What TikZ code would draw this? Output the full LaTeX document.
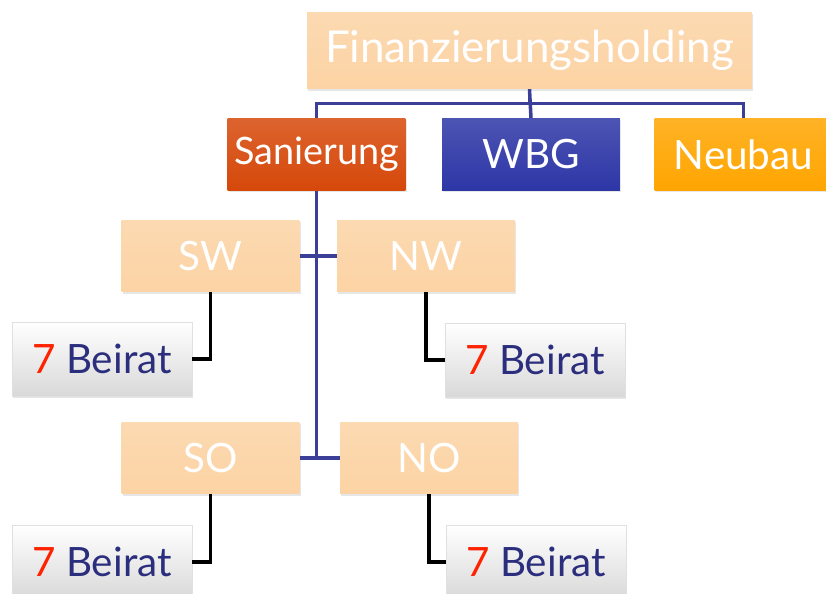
\documentclass[tikz,border=0pt]{standalone}
\usepackage{fontspec}
\setmainfont{Lato}
\usetikzlibrary{shadows}

\definecolor{peach}{HTML}{FCD3A4}
\definecolor{rust}{HTML}{D6480A}
\definecolor{royal}{HTML}{2D36A6}
\definecolor{amber}{HTML}{FFA500}
\definecolor{navy}{HTML}{2B2E7C}
\definecolor{linkblue}{HTML}{3B3F98}
\definecolor{seven}{HTML}{FF2200}

\begin{document}
\begin{tikzpicture}[x=0.02cm,y=-0.02cm]
      \tikzstyle{every node}+=[font=\fontsize{23}{27}\selectfont, inner sep=0pt]
      \tikzstyle{box}=[rectangle, minimum width=3.56cm, minimum height=1.44cm,
        drop shadow={opacity=0.2, shadow xshift=0.6pt, shadow yshift=-1pt}]
      \tikzstyle{area}=[box, top color=peach!85, bottom color=peach, text=white]
      \tikzstyle{beirat}=[box, minimum width=3.6cm, minimum height=1.48cm,
        top color=white, bottom color=black!15, draw=black!12, text=navy]
      \tikzstyle{link}=[draw=linkblue, line width=2pt]
      \tikzstyle{sublink}=[draw=black, line width=2pt]
      \useasboundingbox (0,0) rectangle (826,594);
      % top level
      \node [area, minimum width=8.9cm, minimum height=1.54cm,
        font=\fontsize{25}{29}\selectfont] (hold) at (529.5,50.5) {Finanzierungsholding};
      \node [box, top color=rust!85, bottom color=rust, text=white,
        font=\fontsize{21.5}{26}\selectfont] (san) at (316.5,154.5) {Sanierung};
      \node [box, top color=royal!85, bottom color=royal, text=white] (wbg) at (531,154.5) {WBG};
      \node [box, top color=amber!85, bottom color=amber, text=white] (neu) at (743.5,154.5) {Neubau};
      \draw [link] (hold.south) -- +(0,14) -| (san.north);
      \draw [link] (hold.south) -- +(0,14) -| (neu.north);
      \draw [link] (hold.south) -- (wbg.north);
      % Sanierung regions
      \node [area] (sw) at (210.5,256) {SW};
      \node [area] (nw) at (426,256) {NW};
      \node [area] (so) at (210.5,458) {SO};
      \node [area] (no) at (429,458) {NO};
      \draw [link] (san.south) -- (san.south |- so.east);
      \draw [link] (sw.east) -- (nw.west);
      \draw [link] (so.east) -- (no.west);
      % Beirat per region
      \node [beirat] (bsw) at (102,359) {{\color{seven}7} Beirat};
      \node [beirat] (bnw) at (535,360) {{\color{seven}7} Beirat};
      \node [beirat] (bso) at (102,562) {{\color{seven}7} Beirat};
      \node [beirat] (bno) at (536,562) {{\color{seven}7} Beirat};
      \draw [sublink] (sw.south) |- (bsw.east);
      \draw [sublink] (nw.south) |- (bnw.west);
      \draw [sublink] (so.south) |- (bso.east);
      \draw [sublink] (no.south) |- (bno.west);
\end{tikzpicture}
\end{document}
